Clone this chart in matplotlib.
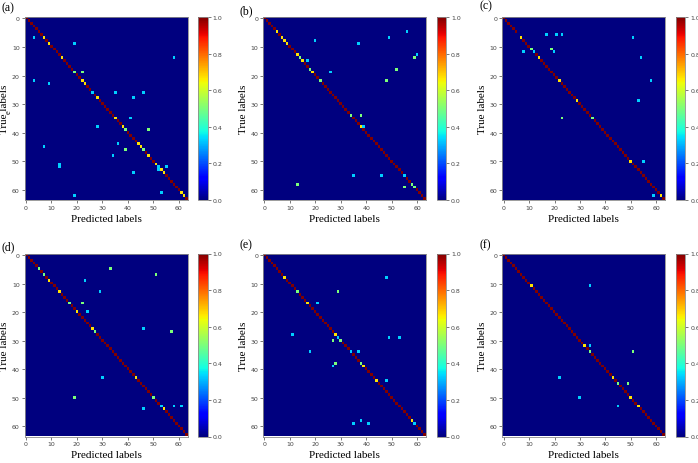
import numpy as np
import matplotlib
matplotlib.use("Agg")
import matplotlib.pyplot as plt

n_classes = 64
panel_names = ["(a)", "(b)", "(c)", "(d)", "(e)", "(f)"]
ticks = [0, 10, 20, 30, 40, 50, 60]
cbar_ticks = [0.0, 0.2, 0.4, 0.6, 0.8, 1.0]

# off-diagonal cells: (true label, predicted label, value)
off_a = [(7, 3, 0.33), (9, 19, 0.33), (14, 58, 0.33), (19, 22, 0.5), (22, 3, 0.33),
         (23, 9, 0.33), (26, 35, 0.33), (26, 46, 0.33), (28, 42, 0.33), (35, 41, 0.33),
         (38, 28, 0.33), (39, 48, 0.5), (44, 36, 0.33), (45, 7, 0.33), (46, 39, 0.5),
         (48, 34, 0.33), (51, 13, 0.33), (52, 13, 0.33), (52, 55, 0.33), (53, 52, 0.33),
         (54, 42, 0.33), (61, 53, 0.33), (62, 19, 0.33)]
off_b = [(5, 56, 0.33), (7, 49, 0.33), (8, 20, 0.33), (9, 37, 0.33), (13, 60, 0.33),
         (14, 59, 0.5), (15, 17, 0.33), (18, 52, 0.5), (19, 26, 0.33), (22, 48, 0.5),
         (34, 38, 0.5), (38, 39, 0.33), (55, 35, 0.33), (55, 46, 0.33), (58, 13, 0.5),
         (59, 55, 0.5)]
off_c = [(6, 17, 0.33), (6, 21, 0.33), (6, 23, 0.33), (7, 51, 0.33), (11, 19, 0.5),
         (12, 8, 0.33), (12, 20, 0.33), (14, 54, 0.33), (22, 58, 0.33), (29, 53, 0.33),
         (35, 23, 0.5), (50, 55, 0.33), (62, 59, 0.33)]
off_d = [(5, 33, 0.5), (7, 51, 0.5), (9, 23, 0.33), (13, 29, 0.33), (17, 22, 0.5),
         (20, 24, 0.33), (26, 46, 0.33), (27, 57, 0.5), (43, 30, 0.33), (50, 19, 0.5),
         (53, 58, 0.33), (53, 61, 0.33), (54, 46, 0.33)]
off_e = [(8, 48, 0.33), (13, 29, 0.5), (17, 21, 0.33), (28, 11, 0.33), (29, 49, 0.33),
         (29, 53, 0.33), (30, 27, 0.5), (34, 18, 0.33), (34, 37, 0.33), (38, 28, 0.5),
         (39, 27, 0.33), (44, 48, 0.33), (58, 38, 0.33), (59, 35, 0.33), (59, 41, 0.33)]
off_f = [(11, 34, 0.33), (32, 34, 0.33), (34, 51, 0.5), (43, 22, 0.33), (45, 49, 0.5),
         (50, 30, 0.33), (53, 45, 0.33)]

# diagonal cells that are not 1.0: {class: value}
diag_a = {7: 0.67, 9: 0.67, 14: 0.67, 19: 0.5, 22: 0.67, 23: 0.67, 26: 0.33, 28: 0.67,
          35: 0.67, 38: 0.67, 39: 0.5, 44: 0.67, 45: 0.67, 46: 0.5, 48: 0.67, 51: 0.67,
          52: 0.33, 53: 0.67, 54: 0.67, 61: 0.67, 62: 0.67}
diag_b = {5: 0.67, 7: 0.67, 8: 0.67, 9: 0.67, 13: 0.67, 14: 0.5, 15: 0.67, 18: 0.5,
          19: 0.67, 22: 0.5, 34: 0.5, 38: 0.67, 55: 0.33, 58: 0.5, 59: 0.5}
diag_c = {6: 0.0, 7: 0.67, 11: 0.5, 12: 0.33, 14: 0.67, 22: 0.67, 29: 0.67, 35: 0.5,
          50: 0.67, 62: 0.67}
diag_d = {5: 0.5, 7: 0.5, 9: 0.67, 13: 0.67, 17: 0.5, 20: 0.67, 26: 0.67, 27: 0.5,
          43: 0.67, 50: 0.5, 53: 0.33, 54: 0.67}
diag_e = {8: 0.67, 13: 0.5, 17: 0.67, 28: 0.67, 29: 0.33, 30: 0.5, 34: 0.33, 38: 0.5,
          39: 0.67, 44: 0.67, 58: 0.67, 59: 0.33}
diag_f = {11: 0.67, 32: 0.67, 34: 0.5, 43: 0.67, 45: 0.5, 50: 0.67, 53: 0.67}

offs = [off_a, off_b, off_c, off_d, off_e, off_f]
diags = [diag_a, diag_b, diag_c, diag_d, diag_e, diag_f]


def build_matrix(off, diag):
    m = np.zeros((n_classes, n_classes))
    np.fill_diagonal(m, 1.0)
    for k, v in diag.items():
        m[k, k] = v
    for r, c, v in off:
        m[r, c] = v
    return m


W, H = 698, 464
fig = plt.figure(figsize=(W / 100, H / 100), dpi=100)

col_left = [24.5, 263, 502.3]
row_top = [18, 254.5]
ax_w, ax_h = 163, 183
label_pos = [(2, 8.3), (239, 11.7), (480, 6.7), (2, 247), (239, 245), (480, 245)]
serif = ["Liberation Serif", "DejaVu Serif"]
spine_col = "#8c8c8c"

for i in range(6):
    r, c = divmod(i, 3)
    l, t = col_left[c], row_top[r]
    ax = fig.add_axes([l / W, 1 - (t + ax_h) / H, ax_w / W, ax_h / H])
    im = ax.imshow(build_matrix(offs[i], diags[i]), cmap="jet", vmin=0, vmax=1,
                   aspect="auto", interpolation="nearest")
    ax.set_xticks(ticks)
    ax.set_yticks(ticks)
    ax.tick_params(labelsize=4.5, length=2, width=0.5, pad=1.5,
                   colors="#444444")
    for s in ax.spines.values():
        s.set_color(spine_col)
        s.set_linewidth(0.6)
    ax.set_xlabel("Predicted labels", fontsize=8, family=serif)
    ax.set_ylabel("True labels", fontsize=8, family=serif)
    ax.xaxis.set_label_coords(0.5, -0.075)
    ax.yaxis.set_label_coords(-0.095, 0.5)

    cax = fig.add_axes([(l + 173.5) / W, 1 - (t + ax_h) / H, 9.5 / W, ax_h / H])
    cb = fig.colorbar(im, cax=cax, ticks=cbar_ticks)
    cb.ax.set_yticklabels(["%.1f" % v for v in cbar_ticks])
    cb.ax.tick_params(labelsize=4.5, length=2, width=0.5, pad=1.5, colors="#444444")
    cb.outline.set_edgecolor(spine_col)
    cb.outline.set_linewidth(0.6)

    lx, ly = label_pos[i]
    fig.text(lx / W, 1 - ly / H, panel_names[i], fontsize=8.5, family=serif,
             ha="left", va="center")

# stray glyph next to the y label of panel (a)
fig.text(8.5 / W, 1 - 112 / H, "e", fontsize=6, family=serif, rotation=90,
         ha="center", va="center")

fig.savefig("out.png", dpi=100)
